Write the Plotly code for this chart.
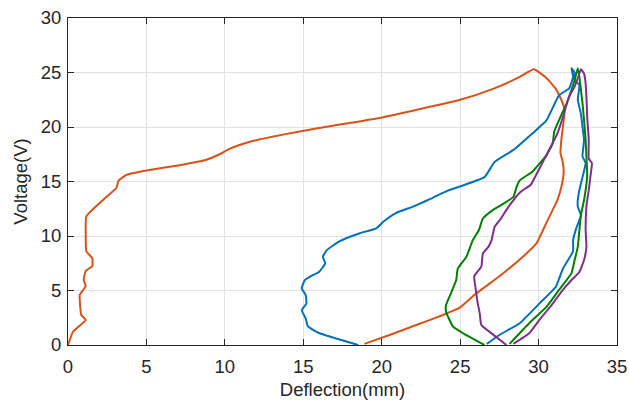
import plotly.graph_objects as go

# ---- data (Deflection mm, Voltage V) ----
orange_x = [0, 0.32, 1.13, 0.85, 0.75, 1.13, 1.0, 1.13, 1.55, 1.55, 1.17, 1.13, 1.17, 2.23, 3.08, 3.23, 3.72, 5.0, 7.12,
            8.82, 9.67, 10.3, 11.6, 13.7, 16.0, 20.1, 25.0, 27.1, 28.8, 29.7,
            30.5, 31.1, 31.45, 31.66, 31.55, 31.45, 31.4, 31.55, 31.6, 31.45, 31.2, 30.9, 30.5, 29.85, 29.0, 27.5,
            26.0, 24.95, 23.9, 22.2, 20.5, 18.9]
orange_y = [0, 1.22, 2.3, 2.75, 4.6, 5.4, 5.96, 6.8, 7.25, 7.95, 8.6, 10.2, 11.8, 13.3, 14.4, 15.1, 15.6, 16.0, 16.5,
            17.0, 17.5, 18.0, 18.65, 19.3, 19.9, 20.9, 22.5, 23.5, 24.6, 25.3,
            24.5, 23.5, 22.5, 21.6, 20.0, 18.8, 17.6, 16.7, 15.8, 14.5, 13.3, 12.4, 11.2, 9.3, 8.1, 6.3,
            4.7, 3.4, 2.75, 1.83, 0.92, 0.1]

blue_x = [18.5, 16.0, 15.3, 15.15, 14.9, 15.2, 15.15, 14.9, 15.1, 15.6, 16.0, 16.4, 16.25, 16.5, 17.3, 18.6, 19.65,
          20.1, 20.9, 22.0, 22.95, 24.1, 26.55, 27.2, 28.4, 29.6, 30.5, 31.3, 31.95, 32.2, 32.1, 32.3,
          32.3, 32.6, 32.5, 32.7, 32.8, 32.9, 32.8, 33.0, 32.8, 32.6, 32.5, 32.5, 32.7, 32.4, 32.2, 32.2,
          31.55, 31.1, 30.05, 28.8, 27.5, 26.7]
blue_y = [0, 1.1, 1.7, 2.45, 3.2, 3.8, 4.6, 5.2, 5.96, 6.4, 6.7, 7.5, 8.1, 8.7, 9.5, 10.25, 10.7,
          11.3, 12.1, 12.7, 13.3, 14.1, 15.4, 16.8, 17.9, 19.4, 20.6, 22.9, 23.55, 24.6, 25.4, 25.0,
          24.3, 23.85, 22.5, 21.2, 20.0, 18.8, 17.3, 16.7, 15.4, 14.2, 13.3, 12.7, 11.9, 10.7, 9.6, 8.6,
          7.0, 5.35, 3.8, 2.0, 0.92, 0.1]

green_x = [26.55, 25.2, 24.55, 24.1, 24.1, 24.4, 24.75, 24.85, 25.4, 25.8, 26.2, 26.45, 27.1, 27.8, 28.4, 28.6,
           28.8, 29.6, 30.5, 30.9, 31.0, 31.45, 31.8, 32.1, 32.3, 32.5,
           32.6, 32.7, 32.8, 32.9, 33.0, 33.05, 33.1, 33.0, 32.9, 32.7, 32.6, 32.5, 32.3, 32.1, 31.3, 30.5,
           29.4, 28.15]
green_y = [0, 1.07, 1.68, 3.05, 3.67, 4.7, 5.96, 7.0, 8.1, 9.6, 10.55, 11.6, 12.4, 13.0, 13.6, 14.5,
           15.1, 15.9, 17.4, 18.5, 19.6, 21.1, 22.2, 23.4, 24.3, 25.4,
           24.6, 23.4, 22.2, 20.6, 18.8, 17.3, 15.5, 14.2, 13.3, 11.9, 10.5, 9.0, 7.8, 6.6, 5.05, 3.5,
           2.0, 0.1]

purple_x = [27.95, 27.0, 26.35, 26.25, 26.1, 26.0, 25.9, 26.35, 26.45, 26.8, 27.0, 27.2, 27.6, 27.95, 28.4, 28.9,
            29.5, 29.95, 30.6, 31.2, 31.55, 31.95, 32.3, 32.6, 32.7,
            32.9, 33.0, 33.05, 33.1, 33.2, 33.2, 33.4, 33.3, 33.2, 33.1, 33.05, 33.0, 33.05, 32.9, 32.6, 32.1,
            31.55, 30.9, 30.05, 29.4, 28.4]
purple_y = [0, 1.07, 1.83, 2.9, 4.0, 5.05, 6.3, 7.2, 8.4, 9.0, 9.6, 10.85, 11.6, 12.4, 13.3, 14.1,
            14.7, 15.9, 17.7, 19.4, 20.9, 22.8, 23.7, 24.9, 25.3,
            24.9, 24.0, 22.8, 20.9, 18.8, 17.1, 16.7, 15.4, 14.2, 13.3, 12.7, 10.6, 9.0, 7.8, 6.7, 5.96,
            5.05, 3.8, 2.3, 1.07, 0.1]

x_ticks = [0, 5, 10, 15, 20, 25, 30, 35]
y_ticks = [0, 5, 10, 15, 20, 25, 30]

series = [
    (orange_x, orange_y, "#D95319"),
    (blue_x, blue_y, "#0072BD"),
    (green_x, green_y, "#008000"),
    (purple_x, purple_y, "#7E2F8E"),
]

fig = go.Figure()
for xs, ys, col in series:
    fig.add_trace(go.Scatter(x=xs, y=ys, mode="lines",
                             line=dict(color=col, width=2, shape="spline", smoothing=0.4),
                             showlegend=False))

FONT = "Liberation Sans, Arial, sans-serif"
axis_common = dict(
    showline=True, linecolor="#262626", linewidth=1, mirror="ticks",
    ticks="inside", ticklen=6, tickcolor="#262626", tickwidth=1,
    showgrid=True, gridcolor="#e2e2e2", gridwidth=1, zeroline=False,
    tickfont=dict(family=FONT, size=18.5, color="#262626"),
)

fig.update_xaxes(range=[0, 35], tickvals=x_ticks, ticktext=[str(v) for v in x_ticks],
                 title=dict(text="Deflection(mm)", standoff=6,
                            font=dict(family=FONT, size=18.5, color="#262626")),
                 ticklabelstandoff=5, automargin=False, **axis_common)
fig.update_yaxes(range=[0, 30], tickvals=y_ticks, ticktext=[str(v) for v in y_ticks],
                 title=dict(text="Voltage(V)", standoff=8,
                            font=dict(family=FONT, size=18.5, color="#262626")),
                 ticklabelstandoff=2, automargin=False, **axis_common)

fig.update_layout(width=629, height=403, margin=dict(l=68, r=12, t=18, b=58),
                  plot_bgcolor="white", paper_bgcolor="white")

fig.write_html("out.html")
